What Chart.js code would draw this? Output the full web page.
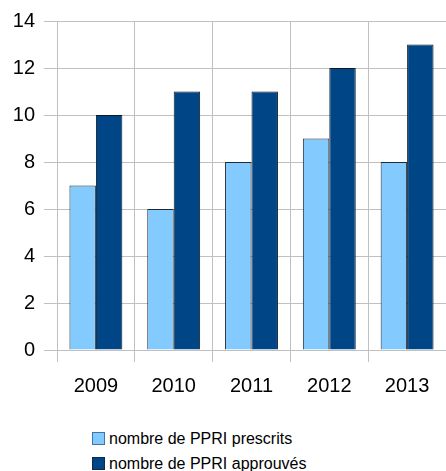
<!DOCTYPE html>
<html><head><meta charset="utf-8">
<script src="https://cdn.jsdelivr.net/npm/chart.js@4"></script>
<style>
html,body{margin:0;padding:0;background:#fff;}
#wrap{position:relative;width:446px;height:471px;}
#cw{position:absolute;left:0;top:0;width:446px;height:410px;}
.lg{position:absolute;left:92px;height:14px;font-family:'Liberation Sans',sans-serif;font-size:16px;color:#000;white-space:nowrap;}
.lg span.b{position:absolute;left:0;top:0;width:11px;height:11px;border:1px solid;}
.lg span.t{position:absolute;left:17px;top:-3px;line-height:20px;}
</style>
</head><body><div id="wrap"><div id="cw"><canvas id="c"></canvas></div>
<div id="legend"></div></div>
<script>
const categories = ['2009','2010','2011','2012','2013'];
const prescrits = [7, 6, 8, 9, 8];
const approuves = [10, 11, 11, 12, 13];
const seriesNames = ['nombre de PPRI prescrits', 'nombre de PPRI approuvés'];
const yTicks = [0,2,4,6,8,10,12,14];
const fills = ['#83caff', '#004586'];
const strokes = ['#1c2a36', '#0d1a26'];
const legendBorders = ['#3f74a6', '#0a2a4f'];

const chart = new Chart(document.getElementById('c'), {
  type: 'bar',
  data: {
    labels: categories,
    datasets: [
      {label: seriesNames[0], data: prescrits, backgroundColor: fills[0], borderColor: strokes[0], borderWidth: 1, categoryPercentage: 0.68, barPercentage: 1},
      {label: seriesNames[1], data: approuves, backgroundColor: fills[1], borderColor: strokes[1], borderWidth: 1, categoryPercentage: 0.68, barPercentage: 1}
    ]
  },
  options: {
    responsive: true, maintainAspectRatio: false, animation: false,
    layout: {padding: {top: 20, right: 0, left: 0, bottom: 0}},
    scales: {
      x: {
        grid: {color: '#c0c0c0', offset: true, tickLength: 12},
        border: {color: '#c0c0c0'},
        ticks: {color: '#000', font: {family: 'Liberation Sans', size: 20}, padding: 12}
      },
      y: {
        min: 0, max: 14,
        afterFit: (s) => { s.width = 57; },
        afterBuildTicks: (s) => { s.ticks = yTicks.map(v => ({value: v})); },
        grid: {color: '#c0c0c0', tickLength: 13},
        border: {color: '#c0c0c0'},
        ticks: {color: '#000', font: {family: 'Liberation Sans', size: 20}, padding: 9}
      }
    },
    plugins: {legend: {display: false}, tooltip: {enabled: false}}
  }
});

const legendEl = document.getElementById('legend');
seriesNames.forEach((name, i) => {
  const row = document.createElement('div');
  row.className = 'lg';
  row.style.top = (432 + i * 25) + 'px';
  const b = document.createElement('span');
  b.className = 'b';
  b.style.background = fills[i];
  b.style.borderColor = legendBorders[i];
  const t = document.createElement('span');
  t.className = 't';
  t.textContent = name;
  row.appendChild(b); row.appendChild(t);
  legendEl.appendChild(row);
});
</script></body></html>
